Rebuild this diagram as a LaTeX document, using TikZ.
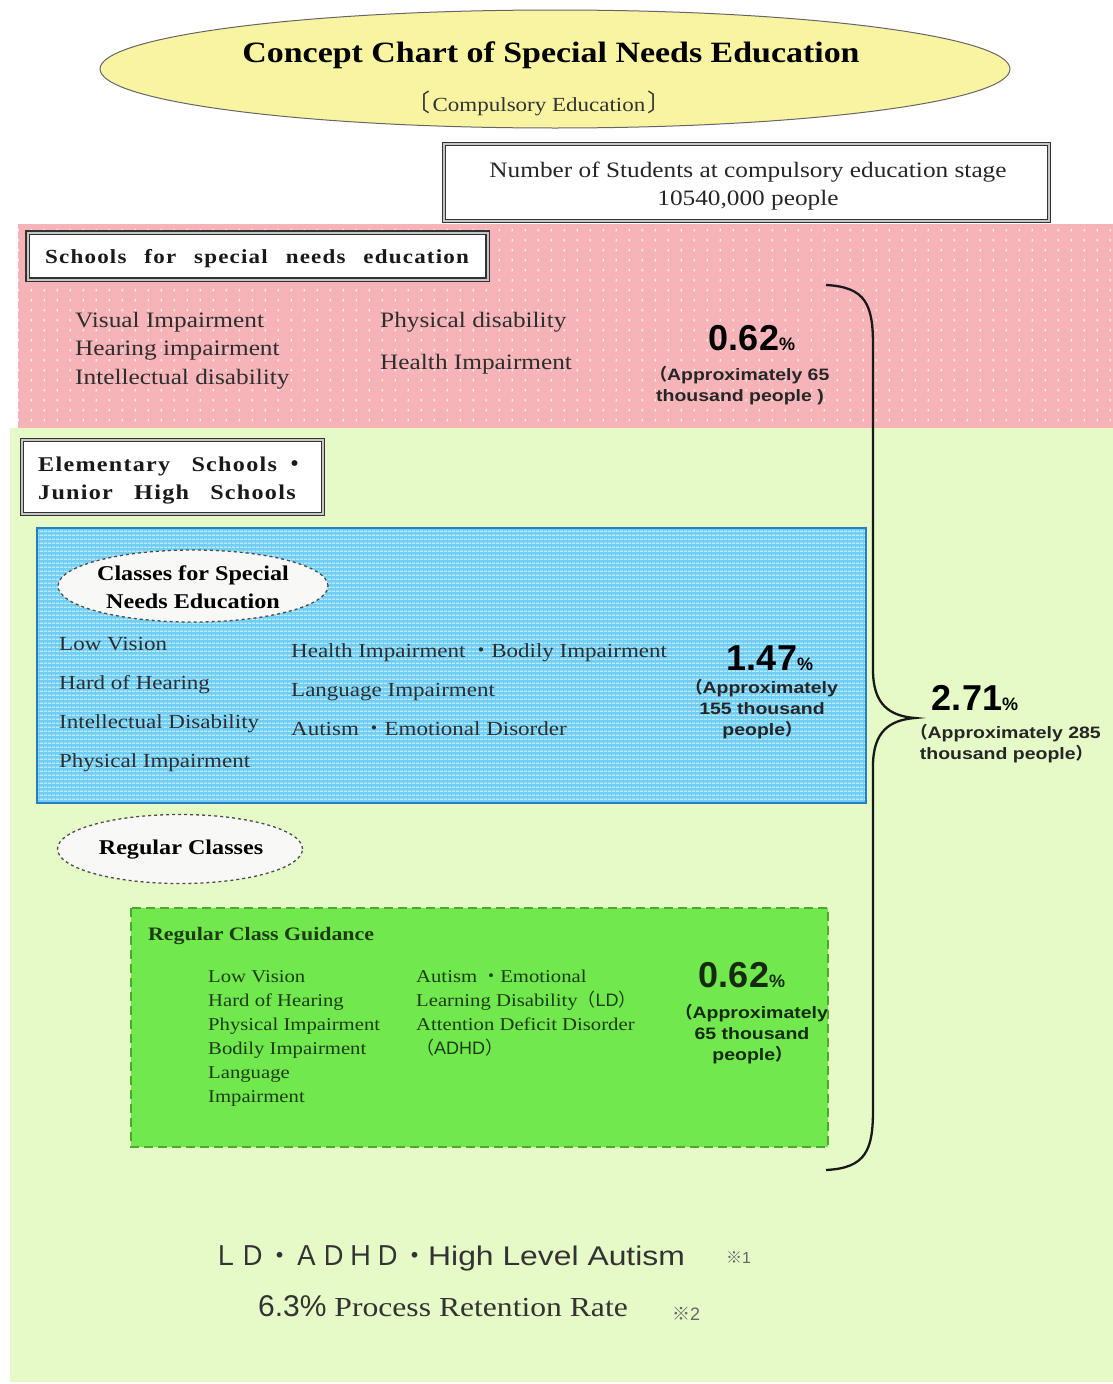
\documentclass[tikz,border=0pt]{standalone}
\usepackage{fontspec}
\setmainfont{Liberation Serif}[FakeStretch=1.15]
\newfontfamily\numfont{Liberation Sans}
\newfontfamily\widesans{Liberation Sans}[FakeStretch=1.18]
\newfontfamily\cjkfont{Noto Sans CJK JP}
\newfontfamily\spacedfont{Liberation Serif}[FakeStretch=1.15, LetterSpace=6]
\usetikzlibrary{shapes.geometric,patterns}
\definecolor{pinkbg}{RGB}{246,180,184}
\definecolor{greenbg}{RGB}{229,250,198}
\definecolor{titleyellow}{RGB}{248,244,162}
\definecolor{bluefill}{RGB}{112,206,244}
\definecolor{bluestripe}{RGB}{190,236,252}
\definecolor{blueborder}{RGB}{40,125,195}
\definecolor{greenbox}{RGB}{112,232,78}
\definecolor{greenboxborder}{RGB}{78,168,48}
\definecolor{darkgreen}{RGB}{30,60,20}
\definecolor{ovalfill}{RGB}{248,248,246}
\pgfdeclarepatternformonly{sparsedots}{\pgfpoint{0pt}{0pt}}{\pgfpoint{13pt}{10pt}}{\pgfpoint{13pt}{10pt}}{%
  \pgfpathrectangle{\pgfpoint{5pt}{3pt}}{\pgfpoint{1.2pt}{2.4pt}}\pgfusepath{fill}}
\pgfdeclarepatternformonly{hstripes}{\pgfpoint{0pt}{0pt}}{\pgfpoint{4pt}{4pt}}{\pgfpoint{4pt}{4pt}}{%
  \pgfpathrectangle{\pgfpoint{0pt}{0pt}}{\pgfpoint{4pt}{1.6pt}}\pgfusepath{fill}}
\newcommand{\jp}[1]{{\cjkfont #1}}
\tikzset{
  dbox/.style={draw=black!80, line width=1.4pt, double=gray!45, double distance=2pt, fill=white, inner sep=0pt},
  dashoval/.style={ellipse, draw=black!70, dashed, line width=1.3pt, fill=ovalfill, inner sep=0pt},
  txt/.style={anchor=base west, inner sep=0pt, text=black!82},
  pinklist/.style={txt, font=\fontsize{22}{26}\selectfont},
  bluelist/.style={txt, font=\fontsize{20}{24}\selectfont},
  greenlist/.style={txt, font=\fontsize{18}{22}\selectfont, text=darkgreen},
  bignum/.style={inner sep=0pt, font=\numfont\bfseries\fontsize{36}{36}\selectfont},
  smallsans/.style={inner sep=0pt, align=center, font=\widesans\bfseries\fontsize{16.5}{21}\selectfont, text=black!85}
}
\newcommand{\pct}{{\fontsize{18}{18}\selectfont\%}}
\begin{document}
\begin{tikzpicture}[x=1pt,y=-1pt]
\useasboundingbox (0,0) rectangle (1113,1384);
\fill[white] (0,0) rectangle (1113,1384);
% regions
\fill[pinkbg] (18,224) rectangle (1113,430);
\fill[pattern=sparsedots, pattern color=white!80!pinkbg] (18,224) rectangle (1113,430);
\fill[greenbg] (10,428) rectangle (1113,1382);
% title
\node[ellipse, draw=black!60, line width=1pt, fill=titleyellow, minimum width=910, minimum height=118] (title) at (555,69) {};
\node[inner sep=0pt, font=\bfseries\fontsize{29.5}{30}\selectfont] (titletext) at (551,55) {Concept Chart of Special Needs Education};
\node[inner sep=0pt, font=\fontsize{20}{22}\selectfont, text=black!80] (subtitle) at (539,103) {{\cjkfont\fontsize{24}{24}\selectfont 〔}\hspace{2pt}Compulsory Education\hspace{2pt}{\cjkfont\fontsize{24}{24}\selectfont 〕}};
% number of students
\node[dbox, minimum width=605, minimum height=77] (numbox) at (746.5,182.5) {};
\node[inner sep=0pt, align=center, font=\fontsize{22}{28}\selectfont, text=black!85] (numtext) at (748,186) {Number of Students at compulsory education stage\\10540,000 people};
% schools for special needs
\node[dbox, minimum width=460, minimum height=47] (ssbox) at (257.5,256) {};
\node[txt, font=\spacedfont\bfseries\fontsize{20}{22}\selectfont, text=black!90] (sstext) at (45,263) {Schools\hspace{11pt} for\hspace{11pt} special\hspace{11pt} needs\hspace{11pt} education};
\node[pinklist] (p1) at (75,327) {Visual Impairment};
\node[pinklist] (p2) at (75,355) {Hearing impairment};
\node[pinklist] (p3) at (75,384) {Intellectual disability};
\node[pinklist] (p4) at (380,327) {Physical disability};
\node[pinklist] (p5) at (380,369) {Health Impairment};
\node[bignum] (n1) at (752,338) {0.62\pct};
\node[smallsans] (n1t) at (740,386) {\jp{（}Approximately 65\\thousand people )};
% elementary / junior high
\node[dbox, minimum width=301, minimum height=74] (elbox) at (172.5,477) {};
\node[txt, font=\spacedfont\bfseries\fontsize{21}{28}\selectfont, text=black!90] (eltext) at (38,471) {Elementary\hspace{14pt} Schools \jp{・}};
\node[txt, font=\spacedfont\bfseries\fontsize{21}{28}\selectfont, text=black!90] (eltext2) at (38,499) {Junior\hspace{14pt} High\hspace{14pt} Schools};
% blue box
\fill[bluefill] (37,528) rectangle (866,803);
\fill[pattern=hstripes, pattern color=bluestripe] (37,528) rectangle (866,803);
\draw[blueborder, line width=2pt] (37,528) rectangle (866,803);
\node[dashoval, minimum width=270, minimum height=72] (csoval) at (193,586) {};
\node[inner sep=0pt, align=center, font=\bfseries\fontsize{21}{28}\selectfont] (cstext) at (193,587) {Classes for Special\\Needs Education};
\node[bluelist] (b1) at (59,650) {Low Vision};
\node[bluelist] (b2) at (59,689) {Hard of Hearing};
\node[bluelist] (b3) at (59,728) {Intellectual Disability};
\node[bluelist] (b4) at (59,767) {Physical Impairment};
\node[bluelist] (b5) at (291,657) {Health Impairment \jp{・}Bodily Impairment};
\node[bluelist] (b6) at (291,696) {Language Impairment};
\node[bluelist] (b7) at (291,735) {Autism \jp{・}Emotional Disorder};
\node[bignum] (n2) at (770,658) {1.47\pct};
\node[smallsans] (n2t) at (762,709) {\jp{（}Approximately\\155 thousand\\people\jp{）}};
% regular classes
\node[dashoval, minimum width=245, minimum height=69] (rcoval) at (180,849) {};
\node[inner sep=0pt, font=\bfseries\fontsize{21}{24}\selectfont] (rctext) at (181,850) {Regular Classes};
% regular class guidance
\fill[greenbox] (131,908) rectangle (828,1147);
\draw[greenboxborder, line width=2pt, dash pattern=on 9pt off 5pt] (131,908) rectangle (828,1147);
\node[txt, font=\bfseries\fontsize{19}{22}\selectfont, text=darkgreen] (rgtitle) at (148,940) {Regular Class Guidance};
\node[greenlist] (g1) at (208,982) {Low Vision};
\node[greenlist] (g2) at (208,1006) {Hard of Hearing};
\node[greenlist] (g3) at (208,1030) {Physical Impairment};
\node[greenlist] (g4) at (208,1054) {Bodily Impairment};
\node[greenlist] (g5) at (208,1078) {Language};
\node[greenlist] (g6) at (208,1102) {Impairment};
\node[greenlist] (g7) at (416,982) {Autism \jp{・}Emotional};
\node[greenlist] (g8) at (416,1006) {Learning Disability\jp{（}{\numfont LD}\jp{）}};
\node[greenlist] (g9) at (416,1030) {Attention Deficit Disorder};
\node[greenlist] (g10) at (416,1054) {\jp{（}{\numfont ADHD}\jp{）}};
\node[bignum, text=darkgreen!70!black] (n3) at (742,975) {0.62\pct};
\node[smallsans, text=darkgreen!70!black] (n3t) at (752,1034) {\jp{（}Approximately\\65 thousand\\people\jp{）}};
% brace
\coordinate (bt) at (826,285);
\coordinate (bb) at (826,1170);
\coordinate (btip) at (915,718);
\draw[line width=2.3pt, black!90] (bt) .. controls (866,287) and (873,305) .. (873,345) -- (873,670) .. controls (873,705) and (890,716) .. (btip) .. controls (890,720) and (873,731) .. (873,766) -- (873,1110) .. controls (873,1150) and (866,1168) .. (bb);
\node[bignum] (n4) at (975,698) {2.71\pct};
\node[smallsans] (n4t) at (1006,744) {\jp{（}Approximately 285\\thousand people\jp{）}};
% bottom notes
\node[txt, font=\fontsize{27}{30}\selectfont, text=black!80] (note1) at (212,1265) {\jp{ＬＤ・ＡＤＨＤ・}{\widesans\fontsize{27}{30}\selectfont High Level Autism}};
\node[txt, font=\numfont\fontsize{16}{18}\selectfont, text=black!60] (note1m) at (726,1263) {\jp{※}1};
\node[txt, font=\fontsize{27.5}{30}\selectfont, text=black!80] (note2) at (258,1316) {{\numfont\fontsize{30}{30}\selectfont 6.3\%} Process Retention Rate};
\node[txt, font=\numfont\fontsize{18}{20}\selectfont, text=black!60] (note2m) at (672,1320) {\jp{※}2};
\end{tikzpicture}
\end{document}
